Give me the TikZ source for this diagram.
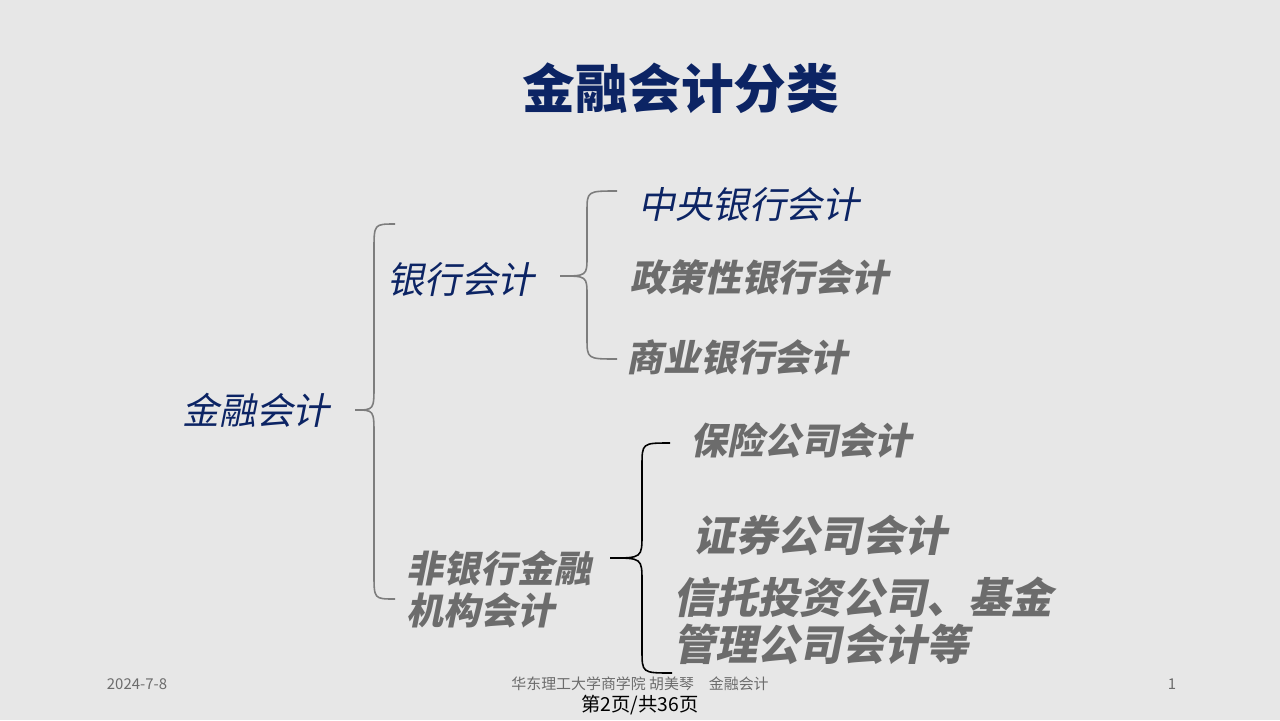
\documentclass[tikz,border=0pt]{standalone}
\usepackage{fontspec}
\newfontfamily\cjk{Noto Sans CJK SC}
\newfontfamily\cjksl{Noto Sans CJK SC}[FakeSlant=0.2,BoldFeatures={FakeSlant=0.2}]
\usetikzlibrary{positioning,calc}
\definecolor{slidebg}{RGB}{231,231,231}
\definecolor{navy}{RGB}{12,36,100}
\definecolor{txtgray}{RGB}{108,108,108}
\definecolor{bracegray}{RGB}{125,125,125}
\tikzset{
  navyitem/.style={text=navy, font=\cjksl\fontsize{21}{24}\selectfont, inner sep=0pt},
  grayitem/.style={text=txtgray, font=\cjksl\bfseries\fontsize{21}{24}\selectfont, inner sep=0pt},
  bigitem/.style={text=txtgray, font=\cjksl\bfseries\fontsize{24}{27}\selectfont, inner sep=0pt, align=left},
  foot/.style={text=txtgray, font=\cjk\fontsize{8.5}{10}\selectfont, inner sep=0pt},
  brace/.style={draw=bracegray, line width=0.9pt}
}
\begin{document}
\begin{tikzpicture}[x=0.02cm, y=-0.02cm]
    \useasboundingbox[fill=slidebg] (0,0) rectangle (1280,720);

    %coordinates
    \coordinate (T) at (681,88);
    \coordinate (Root) at (256,410);
    \coordinate (Bank) at (461,280);
    \coordinate (NonBank) at (499,589);

    %nodes
    \node[text=navy, font=\cjk\bfseries\fontsize{30}{34}\selectfont, inner sep=0pt] (title) at (T) {金融会计分类};

    \node[navyitem] (fin) at (Root) {金融会计};
    \node[navyitem] (bank) at (Bank) {银行会计};
    \node[grayitem, align=left] (nonbank) at (NonBank) {非银行金融\\机构会计};

    \node[navyitem, anchor=west] (central) at (638,205) {中央银行会计};
    \node[grayitem, anchor=west] (policy) at (630,277) {政策性银行会计};
    \node[grayitem, anchor=west] (commercial) at (626,357) {商业银行会计};

    \node[grayitem, anchor=west] (insur) at (690,440) {保险公司会计};
    \node[bigitem, anchor=west] (secur) at (693,535) {证券公司会计};
    \node[bigitem, anchor=west] (trust) at (673,621) {信托投资公司、基金\\管理公司会计等};

    \node[foot] (date) at (137,684) {2024-7-8};
    \node[foot] (org) at (640,684) {华东理工大学商学院 胡美琴\quad 金融会计};
    \node[foot] (num) at (1172,684) {1};
    \node[text=black, font=\cjk\fontsize{11}{13}\selectfont, inner sep=0pt] (page) at (640,705) {第2页/共36页};

    %braces
    \draw[brace] (395,224) .. controls (374,224) .. (374,250) -- (374,385)
        .. controls (374,410) .. (355,410) .. controls (374,410) .. (374,435)
        -- (374,574) .. controls (374,599) .. (395,599);
    \draw[brace] (617,191) .. controls (587,191) .. (587,212) -- (587,256)
        .. controls (587,276) .. (560,276) .. controls (587,276) .. (587,296)
        -- (587,338) .. controls (587,359) .. (617,359);
    \draw[line width=0.9pt] (670,443) .. controls (642,443) .. (642,466) -- (642,534)
        .. controls (642,558) .. (610,558) .. controls (642,558) .. (642,582)
        -- (642,650) .. controls (642,673) .. (672,673);
\end{tikzpicture}
\end{document}
